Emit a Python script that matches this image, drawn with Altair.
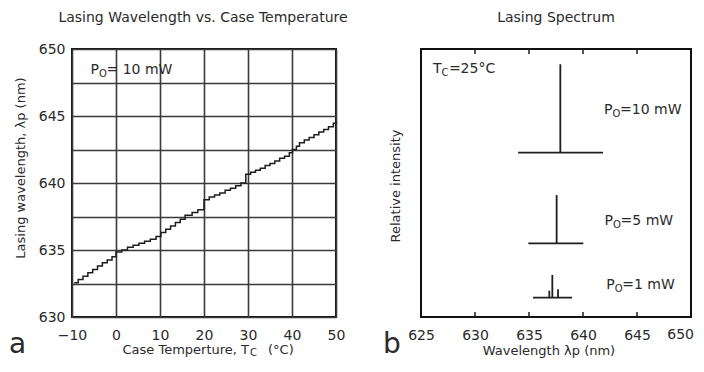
import altair as alt
import pandas as pd

FONT = "DejaVu Sans"
INK = "#2a2a2a"
GRID = "#3a3a3a"

# ---------------- panel a: lasing wavelength vs case temperature (staircase corners)
temp_c = [-9.5, -8.6, -7.5, -6.4, -5.3, -4.2, -3.1, -2.0, -0.9, 0.0,
          1.3, 2.6, 3.9, 5.2, 6.5, 7.8, 9.1, 10.2, 11.3, 12.4, 13.5, 14.6, 15.7, 17.3, 18.6, 20.0,
          21.2, 22.4, 23.6, 24.8, 26.0, 27.2, 28.4, 29.5,
          30.6, 31.7, 32.8, 33.9, 35.0, 36.1, 37.2, 38.3, 39.4, 40.1,
          41.0, 41.7, 42.8, 43.9, 45.0, 46.1, 47.2, 48.3, 49.4, 50.0]
lambda_nm = [632.55, 632.8, 633.05, 633.3, 633.55, 633.8, 634.05, 634.25, 634.5, 634.85,
             635.0, 635.2, 635.35, 635.5, 635.65, 635.8, 636.0, 636.3, 636.55, 636.8, 637.05, 637.3, 637.6, 637.8, 638.0, 638.75,
             638.95, 639.1, 639.25, 639.45, 639.6, 639.8, 640.0, 640.65,
             640.8, 640.95, 641.1, 641.3, 641.45, 641.65, 641.85, 642.0, 642.25, 642.5,
             642.75, 643.0, 643.2, 643.4, 643.6, 643.8, 644.0, 644.2, 644.45, 644.6]

temp_ticks = [-10, 0, 10, 20, 30, 40, 50]
lambda_grid = [630, 632.5, 635, 637.5, 640, 642.5, 645, 647.5, 650]

# ---------------- panel b: lasing spectrum
base_power = ["10 mW", "5 mW", "1 mW"]
base_start = [634.0, 634.94, 635.37]
base_end = [641.85, 640.03, 638.98]
base_level = [0.613, 0.275, 0.072]

peak_power = ["10 mW", "5 mW", "1 mW", "1 mW", "1 mW"]
peak_wl = [637.9, 637.56, 636.88, 637.16, 637.69]
peak_top = [0.943, 0.455, 0.098, 0.157, 0.104]
peak_base = [0.613, 0.275, 0.072, 0.072, 0.072]

wl_ticks = [625, 630, 635, 640, 645]
wl_last_tick = [650]
wl_inner_ticks = [630, 635, 640, 645]

# annotations (lead letter, subscript, rest) in data coordinates
anno_b_wl = [626.1, 641.95, 642.0, 642.15]
anno_b_int = [0.925, 0.772, 0.358, 0.118]
anno_b_lead = ["T", "P", "P", "P"]
anno_b_sub = ["C", "O", "O", "O"]
anno_b_rest = ["=25°C", "=10 mW", "=5 mW", "=1 mW"]

anno_a_t = [-5.8]
anno_a_l = [648.4]
anno_a_lead = ["P"]
anno_a_sub = ["O"]
anno_a_rest = ["= 10 mW"]

W_A, W_B, H = 264, 270, 268

# ---------------- helpers
def ptext(txt, x, y, size, align="left", angle=None, baseline="middle"):
    kw = dict(align=align, baseline=baseline, font=FONT, fontSize=size, color=INK)
    if angle is not None:
        kw["angle"] = angle
    return alt.Chart(pd.DataFrame({"t": [txt]})).mark_text(**kw).encode(
        x=alt.value(x), y=alt.value(y), text="t:N")


def sub_label(df, xenc, yenc):
    base = alt.Chart(df)
    lead = base.mark_text(align="left", baseline="middle", font=FONT, fontSize=14, color=INK).encode(
        x=xenc, y=yenc, text="lead:N")
    sub = base.mark_text(align="left", baseline="middle", font=FONT, fontSize=10, color=INK,
                         dx=8.5, dy=4).encode(x=xenc, y=yenc, text="sub:N")
    rest = base.mark_text(align="left", baseline="middle", font=FONT, fontSize=14, color=INK,
                          dx=16).encode(x=xenc, y=yenc, text="rest:N")
    return [lead, sub, rest]


# ---------------- panel a
xa_scale = alt.Scale(domain=[-10, 50], nice=False, zero=False)
ya_scale = alt.Scale(domain=[630, 650], nice=False, zero=False)
xa_axis = alt.Axis(values=temp_ticks, grid=True, gridColor=GRID, gridWidth=1.6, gridOpacity=1,
                   ticks=False, tickSize=0, domain=False, labelFont=FONT, labelFontSize=14,
                   labelColor=INK, labelPadding=11, labelFlush=False, labelOverlap=False, title=None)
ya_axis = alt.Axis(values=lambda_grid, grid=True, gridColor=GRID, gridWidth=1.6, gridOpacity=1,
                   ticks=False, tickSize=0, domain=False, labelFont=FONT, labelFontSize=14,
                   labelColor=INK, labelPadding=7, labelOverlap=False, title=None,
                   labelExpr="datum.value % 5 == 0 ? datum.label : ''")

df_a = pd.DataFrame({"T": temp_c, "L": lambda_nm})
line_a = alt.Chart(df_a).mark_line(interpolate="step-after", color="#1e1e1e", strokeWidth=1.5).encode(
    x=alt.X("T:Q", scale=xa_scale, axis=xa_axis),
    y=alt.Y("L:Q", scale=ya_scale, axis=ya_axis))

df_anno_a = pd.DataFrame({"T": anno_a_t, "L": anno_a_l, "lead": anno_a_lead,
                          "sub": anno_a_sub, "rest": anno_a_rest})
anno_a = sub_label(df_anno_a, alt.X("T:Q", scale=xa_scale, axis=xa_axis),
                   alt.Y("L:Q", scale=ya_scale, axis=ya_axis))

left = alt.layer(
    line_a, *anno_a,
    ptext("Lasing Wavelength vs. Case Temperature", 131, -31, 14, align="center"),
    ptext("Lasing wavelength, λp (nm)", -51, 119, 13, align="center", angle=270),
    ptext("Case Temperture, T", 177, 301, 13, align="right"),
    ptext("C", 178, 304, 10),
    ptext("(°C)", 196, 301, 13),
    ptext("a", -63, 304, 28, baseline="alphabetic"),
).properties(width=W_A, height=H)

# ---------------- panel b
xb_scale = alt.Scale(domain=[625, 650], nice=False, zero=False)
yb_scale = alt.Scale(domain=[0, 1], nice=False, zero=False)
xb_axis = alt.Axis(values=wl_ticks, grid=False, ticks=False, tickSize=0, domain=False,
                   labelFont=FONT, labelFontSize=14, labelColor=INK, labelPadding=11,
                   labelFlush=False, labelOverlap=False, title=None)

df_base = pd.DataFrame({"power": base_power, "wl": base_start, "wl2": base_end, "lvl": base_level})
df_peak = pd.DataFrame({"power": peak_power, "wl": peak_wl, "lvl": peak_base, "lvl2": peak_top})
df_ticks = pd.DataFrame({"wl": wl_inner_ticks})
df_last = pd.DataFrame({"wl": wl_last_tick, "lab": [str(v) for v in wl_last_tick]})

baselines = alt.Chart(df_base).mark_rule(color="#1e1e1e", strokeWidth=1.8).encode(
    x=alt.X("wl:Q", scale=xb_scale, axis=xb_axis), x2="wl2:Q",
    y=alt.Y("lvl:Q", scale=yb_scale, axis=None))
peaks = alt.Chart(df_peak).mark_rule(color="#1e1e1e", strokeWidth=1.8).encode(
    x=alt.X("wl:Q", scale=xb_scale, axis=xb_axis),
    y=alt.Y("lvl:Q", scale=yb_scale, axis=None), y2="lvl2:Q")
ticks_top = alt.Chart(df_ticks).mark_rule(color="#1e1e1e", strokeWidth=1.5).encode(
    x=alt.X("wl:Q", scale=xb_scale, axis=xb_axis), y=alt.value(0), y2=alt.value(5))
ticks_bot = alt.Chart(df_ticks).mark_rule(color="#1e1e1e", strokeWidth=1.5).encode(
    x=alt.X("wl:Q", scale=xb_scale, axis=xb_axis), y=alt.value(H - 5), y2=alt.value(H))
last_label = alt.Chart(df_last).mark_text(align="right", baseline="top", dx=3, font=FONT,
                                           fontSize=14, color=INK).encode(
    x=alt.X("wl:Q", scale=xb_scale, axis=xb_axis), y=alt.value(H + 11), text="lab:N")

df_anno_b = pd.DataFrame({"wl": anno_b_wl, "lvl": anno_b_int, "lead": anno_b_lead,
                          "sub": anno_b_sub, "rest": anno_b_rest})
anno_b = sub_label(df_anno_b, alt.X("wl:Q", scale=xb_scale, axis=xb_axis),
                   alt.Y("lvl:Q", scale=yb_scale, axis=None))

right = alt.layer(
    baselines, peaks, ticks_top, ticks_bot, last_label, *anno_b,
    ptext("Lasing Spectrum", 135, -31, 14, align="center"),
    ptext("Relative intensity", -25, 137, 13, align="center", angle=270),
    ptext("Wavelength λp (nm)", 128, 302, 13, align="center"),
    ptext("b", -38, 304, 28, baseline="alphabetic"),
).properties(width=W_B, height=H)

chart = alt.hconcat(left, right, spacing=85, bounds="flush").properties(
    padding={"left": 0, "top": 2, "right": 0, "bottom": 0},
    background="white",
).configure_view(stroke="#111111", strokeWidth=2)

chart.save("out.html", embed_options={"renderer": "svg", "actions": False})
